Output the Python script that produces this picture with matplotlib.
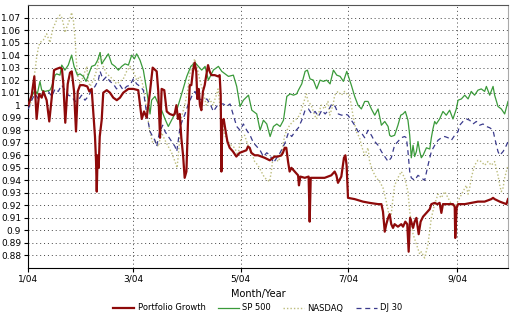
import matplotlib
matplotlib.use('Agg')
import matplotlib.pyplot as plt

# days since 1 Jan 2004 and growth values
pg_day = [0.2, 2.1, 3.6, 4.9, 6.3, 7.8, 8.7, 10.6, 12.1, 13.5, 14.8, 16.3, 18.2, 19.3, 20.1, 21.2,
          22.6, 23.9, 24.9, 26.2, 27.3, 28.3, 29.6, 31.5, 33.7, 34.9, 36.2, 37.1, 38.1, 38.7, 39.1,
          39.6, 40.2, 40.8, 41.9, 42.8, 44.8, 46.6, 48.5, 50.5, 52.3, 54.2, 57.1, 59.9, 62.7, 64.7,
          66.0, 67.5, 69.4, 70.9, 73.2, 74.1, 75.1, 76.0, 77.5, 78.9, 80.6, 82.5, 83.4, 84.4, 85.3,
          86.3, 87.2, 88.2, 89.1, 90.1, 91.0, 92.0, 92.9, 93.8, 94.8, 95.7, 96.3, 97.1, 97.8, 98.6,
          99.5, 100.5, 101.4, 102.4, 103.3, 104.3, 106.2, 108.1, 109.0, 109.6, 110.0, 110.5, 111.3,
          112.2, 113.4, 114.7, 116.6, 118.5, 120.4, 122.3, 124.2, 125.1, 126.1, 127.0, 128.9, 130.8,
          132.7, 134.6, 137.5, 140.3, 142.2, 144.1, 145.0, 146.0, 146.9, 147.9, 148.8, 149.8, 151.7,
          153.6, 154.1, 154.9, 157.4, 159.6, 160.2, 160.8, 163.0, 165.9, 168.7, 170.6, 172.5, 174.4,
          175.4, 176.3, 178.2, 179.7, 180.5, 181.2, 182.0, 185.8, 190.5, 194.3, 199.1, 201.0, 201.9,
          202.9, 203.8, 204.8, 205.7, 206.6, 207.6, 208.5, 210.4, 212.3, 213.3, 214.6, 215.7, 216.5,
          217.3, 218.0, 219.0, 219.9, 220.9, 222.2, 223.3, 224.7, 226.6, 228.5, 229.4, 231.3, 232.8,
          234.1, 235.1, 236.0, 237.9, 239.8, 241.7, 242.7, 243.0, 243.8, 244.6, 248.4, 252.1, 255.9,
          259.7, 263.5, 264.5, 265.4, 268.3, 272.1, 273.0]
pg_val = [1.000, 1.008, 1.023, 0.989, 1.009, 1.006, 1.011, 1.004, 0.987, 1.006, 1.028, 1.029, 1.030,
          1.029, 1.017, 0.986, 1.017, 1.026, 1.027, 1.011, 0.979, 1.011, 1.016, 1.016, 1.015, 1.011,
          1.013, 0.995, 0.975, 0.955, 0.931, 0.960, 0.950, 0.975, 0.988, 1.010, 1.012, 1.010, 1.006,
          1.004, 1.006, 1.010, 1.013, 1.013, 1.012, 0.989, 0.995, 0.990, 1.011, 1.030, 1.027, 1.011,
          0.974, 1.013, 1.012, 0.995, 0.993, 0.992, 0.993, 1.000, 0.989, 0.993, 0.974, 0.960, 0.942,
          0.947, 0.987, 1.016, 1.016, 1.027, 1.034, 1.027, 1.005, 1.013, 1.000, 0.996, 1.011, 1.016,
          1.024, 1.032, 1.027, 1.024, 1.024, 1.023, 1.024, 1.008, 0.947, 0.987, 0.989, 0.981, 0.971,
          0.966, 0.963, 0.959, 0.962, 0.963, 0.964, 0.967, 0.966, 0.962, 0.960, 0.960, 0.959, 0.958,
          0.956, 0.959, 0.959, 0.960, 0.962, 0.966, 0.966, 0.955, 0.947, 0.950, 0.947, 0.944, 0.936,
          0.943, 0.942, 0.943, 0.907, 0.942, 0.942, 0.942, 0.942, 0.943, 0.944, 0.947, 0.944, 0.938,
          0.943, 0.958, 0.960, 0.952, 0.926, 0.925, 0.923, 0.922, 0.921, 0.921, 0.915, 0.899, 0.905,
          0.910, 0.913, 0.905, 0.902, 0.905, 0.903, 0.905, 0.903, 0.907, 0.905, 0.883, 0.910, 0.907,
          0.902, 0.907, 0.910, 0.897, 0.907, 0.911, 0.914, 0.917, 0.921, 0.922, 0.921, 0.922, 0.914,
          0.921, 0.921, 0.921, 0.921, 0.919, 0.894, 0.918, 0.921, 0.921, 0.922, 0.923, 0.923, 0.925,
          0.926, 0.925, 0.923, 0.921, 0.925]

sp_day = [0.2, 2.1, 4.0, 5.3, 6.8, 7.8, 9.7, 12.5, 13.5, 15.4, 16.3, 18.2, 19.2, 21.0, 22.9, 24.8,
          26.2, 28.1, 29.6, 31.5, 33.0, 34.3, 36.2, 38.1, 39.6, 41.0, 41.9, 43.8, 45.7, 47.6, 49.5,
          51.4, 53.3, 55.2, 57.1, 59.0, 60.5, 61.8, 63.7, 65.6, 67.5, 69.4, 70.3, 72.2, 74.1, 76.0,
          77.9, 79.8, 84.6, 87.4, 90.3, 92.6, 95.0, 96.9, 98.8, 100.7, 102.6, 105.4, 108.3, 110.2,
          112.1, 114.0, 116.8, 118.7, 120.6, 122.5, 125.4, 127.3, 130.1, 132.0, 133.9, 135.8, 137.7,
          139.6, 141.5, 143.4, 145.3, 147.2, 149.1, 151.0, 152.8, 153.8, 155.7, 157.6, 158.9, 160.4,
          162.3, 164.2, 166.1, 168.0, 169.9, 171.8, 173.7, 175.6, 177.5, 179.4, 181.3, 183.9, 185.8,
          187.7, 189.6, 191.5, 193.4, 195.3, 197.2, 199.1, 201.0, 202.9, 204.8, 205.7, 206.6, 208.5,
          210.4, 212.0, 213.3, 214.6, 216.1, 217.1, 218.0, 219.0, 219.9, 220.9, 221.8, 222.8, 223.7,
          224.7, 226.6, 228.5, 229.4, 230.3, 231.3, 232.2, 234.1, 236.0, 237.9, 239.8, 241.7, 243.6,
          244.6, 246.5, 248.4, 250.3, 252.1, 254.0, 255.9, 257.8, 259.7, 260.7, 262.6, 264.5, 265.4,
          267.3, 269.2, 271.1, 273.0]
sp_val = [1.001, 1.007, 1.012, 1.009, 1.019, 1.012, 1.011, 1.012, 1.015, 1.024, 1.025, 1.024, 1.032,
          1.028, 1.032, 1.040, 1.031, 1.024, 1.025, 1.023, 1.019, 1.024, 1.031, 1.032, 1.036, 1.042,
          1.033, 1.037, 1.041, 1.033, 1.031, 1.028, 1.031, 1.033, 1.032, 1.040, 1.037, 1.041, 1.036,
          1.028, 1.012, 0.993, 1.004, 1.007, 1.001, 0.996, 0.989, 0.983, 0.996, 1.009, 1.023, 1.031,
          1.034, 1.031, 1.028, 1.031, 1.020, 1.028, 1.031, 1.027, 1.025, 1.023, 1.024, 1.015, 0.999,
          1.004, 1.008, 0.996, 0.993, 0.980, 0.988, 0.985, 0.975, 0.983, 0.985, 0.983, 0.988, 1.007,
          1.009, 1.008, 1.009, 1.012, 1.017, 1.027, 1.028, 1.021, 1.020, 1.013, 1.020, 1.019, 1.020,
          1.017, 1.028, 1.024, 1.023, 1.019, 1.027, 1.016, 1.007, 1.000, 0.997, 1.003, 1.003, 0.997,
          0.992, 0.997, 0.984, 0.987, 0.983, 0.976, 0.975, 0.976, 0.984, 0.992, 0.993, 0.995, 0.988,
          0.976, 0.958, 0.968, 0.959, 0.963, 0.971, 0.963, 0.958, 0.960, 0.966, 0.965, 0.974, 0.981,
          0.987, 0.985, 0.989, 0.995, 0.992, 0.996, 0.989, 0.997, 1.004, 1.005, 1.008, 1.005, 1.011,
          1.008, 1.012, 1.013, 1.011, 1.015, 1.008, 1.015, 1.008, 0.999, 0.997, 0.993, 1.003]

nq_day = [0.2, 2.1, 3.0, 4.0, 4.9, 5.9, 6.8, 8.7, 10.6, 12.5, 13.5, 14.4, 16.3, 18.2, 19.2, 20.1,
          21.0, 22.0, 23.9, 24.8, 25.8, 26.7, 27.7, 28.6, 29.6, 31.5, 32.4, 33.4, 34.3, 35.3, 37.2,
          39.1, 41.0, 42.8, 44.7, 46.6, 48.5, 50.4, 52.3, 54.2, 56.1, 58.0, 59.9, 61.8, 63.7, 65.6,
          67.5, 69.4, 70.9, 72.2, 74.1, 76.0, 77.9, 79.8, 81.7, 83.6, 84.8, 85.8, 87.2, 89.1, 91.0,
          92.0, 94.8, 95.7, 97.6, 99.5, 101.4, 103.3, 105.2, 107.1, 108.1, 110.0, 111.9, 113.8,
          115.6, 117.5, 119.4, 120.4, 121.3, 123.2, 125.1, 127.0, 128.9, 130.8, 132.7, 134.6, 137.4,
          138.4, 139.3, 140.3, 142.2, 144.1, 145.0, 146.0, 146.9, 148.8, 150.7, 152.6, 154.5, 156.4,
          157.4, 158.3, 159.3, 161.1, 163.0, 164.0, 164.9, 166.8, 168.7, 170.6, 171.6, 173.5, 174.4,
          176.3, 178.2, 180.1, 182.0, 182.9, 184.8, 186.7, 188.6, 189.6, 191.5, 193.4, 194.3, 196.2,
          198.1, 200.0, 201.9, 203.8, 205.7, 206.6, 207.6, 208.5, 210.4, 212.3, 214.2, 216.1, 217.1,
          219.0, 220.9, 222.8, 223.7, 225.6, 227.5, 228.4, 229.4, 231.3, 233.2, 235.1, 237.0, 238.9,
          240.8, 242.7, 243.6, 245.5, 247.4, 249.3, 250.3, 251.2, 252.1, 254.0, 255.9, 257.8, 259.7,
          261.6, 263.5, 265.4, 267.3, 268.3, 269.2, 270.2, 271.1, 273.0]
nq_val = [0.996, 1.004, 1.015, 1.028, 1.038, 1.046, 1.050, 1.052, 1.057, 1.050, 1.057, 1.062, 1.068,
          1.072, 1.070, 1.065, 1.058, 1.062, 1.069, 1.074, 1.068, 1.054, 1.031, 1.020, 1.017, 1.023,
          1.027, 1.031, 1.019, 1.015, 1.020, 1.028, 1.042, 1.031, 1.025, 1.023, 1.020, 1.017, 1.019,
          1.021, 1.027, 1.031, 1.027, 1.020, 1.023, 1.015, 0.996, 0.978, 0.970, 0.972, 0.967, 0.978,
          0.972, 0.967, 0.962, 0.955, 0.950, 0.965, 0.990, 1.000, 1.013, 1.025, 1.037, 1.033, 1.021,
          1.011, 1.000, 1.005, 1.000, 1.008, 1.013, 0.989, 0.976, 0.971, 0.968, 0.966, 0.960, 0.968,
          0.974, 0.976, 0.968, 0.963, 0.955, 0.952, 0.947, 0.942, 0.939, 0.947, 0.958, 0.960, 0.955,
          0.960, 0.968, 0.976, 0.979, 0.984, 0.987, 0.989, 0.992, 1.000, 1.005, 1.009, 1.003, 1.000,
          0.992, 0.989, 0.992, 1.000, 0.997, 1.003, 0.992, 1.000, 1.008, 1.011, 1.008, 1.011, 1.008,
          1.008, 0.992, 0.979, 0.974, 0.968, 0.960, 0.966, 0.955, 0.947, 0.942, 0.939, 0.934, 0.923,
          0.910, 0.913, 0.926, 0.936, 0.942, 0.947, 0.942, 0.931, 0.915, 0.897, 0.889, 0.881, 0.883,
          0.878, 0.889, 0.899, 0.910, 0.921, 0.929, 0.926, 0.931, 0.926, 0.921, 0.918, 0.921, 0.926,
          0.931, 0.936, 0.929, 0.934, 0.942, 0.952, 0.956, 0.955, 0.952, 0.955, 0.952, 0.955, 0.944,
          0.936, 0.931, 0.934, 0.942, 0.952]

dj_day = [0.2, 2.1, 4.0, 5.9, 7.8, 9.7, 11.6, 13.5, 15.4, 17.2, 19.2, 21.0, 22.9, 24.8, 26.7, 28.6,
          30.5, 32.4, 34.3, 36.2, 38.1, 40.0, 41.0, 42.8, 44.7, 46.6, 48.5, 50.4, 52.3, 54.2, 56.1,
          58.0, 59.9, 61.8, 63.7, 65.6, 67.5, 69.4, 70.9, 72.2, 73.2, 74.7, 76.6, 77.9, 79.8, 81.7,
          83.6, 84.6, 85.5, 86.5, 89.3, 91.2, 93.1, 95.0, 96.9, 99.8, 101.7, 103.6, 105.4, 108.3,
          111.1, 113.0, 114.9, 116.8, 118.7, 120.6, 122.5, 124.4, 126.3, 128.2, 130.1, 132.0, 133.9,
          135.8, 137.7, 139.6, 141.5, 143.4, 146.2, 148.1, 150.0, 151.9, 153.8, 155.7, 157.6, 159.5,
          161.4, 163.3, 165.2, 167.1, 169.0, 170.9, 172.8, 174.7, 176.5, 178.4, 180.3, 182.0, 183.9,
          185.8, 187.7, 189.6, 191.5, 193.4, 195.3, 197.2, 199.1, 201.0, 202.9, 204.8, 206.6, 208.5,
          210.4, 212.3, 214.2, 215.2, 216.1, 217.1, 218.0, 219.9, 221.8, 223.7, 225.6, 227.5, 229.4,
          231.3, 233.2, 235.1, 237.0, 238.9, 240.8, 242.7, 244.6, 245.5, 247.4, 249.3, 251.2, 253.1,
          255.0, 256.9, 258.8, 260.7, 262.6, 264.5, 265.4, 267.3, 268.3, 270.2, 272.1, 273.0]
dj_val = [0.997, 1.004, 1.009, 1.005, 1.008, 1.009, 1.011, 1.007, 1.013, 1.011, 1.016, 1.012, 1.008,
          1.007, 1.003, 1.004, 1.008, 1.004, 1.007, 1.012, 1.015, 1.020, 1.027, 1.020, 1.023, 1.019,
          1.017, 1.013, 1.016, 1.012, 1.015, 1.016, 1.021, 1.017, 1.015, 1.012, 0.993, 0.979, 0.975,
          0.972, 0.967, 0.978, 0.984, 0.979, 0.975, 0.971, 0.967, 0.963, 0.972, 0.983, 0.993, 1.001,
          1.007, 1.011, 1.005, 1.004, 1.005, 1.001, 0.995, 1.001, 1.001, 0.999, 1.001, 0.992, 0.983,
          0.980, 0.985, 0.980, 0.976, 0.970, 0.967, 0.964, 0.959, 0.962, 0.960, 0.954, 0.958, 0.962,
          0.970, 0.978, 0.975, 0.979, 0.982, 0.988, 0.996, 0.997, 0.993, 0.995, 0.991, 0.996, 0.993,
          0.996, 1.001, 0.999, 0.993, 0.992, 0.993, 0.992, 0.988, 0.984, 0.979, 0.978, 0.974, 0.980,
          0.976, 0.971, 0.968, 0.963, 0.959, 0.955, 0.958, 0.968, 0.971, 0.974, 0.975, 0.974, 0.963,
          0.947, 0.942, 0.940, 0.944, 0.942, 0.940, 0.952, 0.963, 0.968, 0.972, 0.974, 0.975, 0.974,
          0.972, 0.976, 0.979, 0.984, 0.987, 0.989, 0.988, 0.985, 0.987, 0.984, 0.985, 0.983, 0.982,
          0.980, 0.974, 0.963, 0.960, 0.963, 0.968, 0.971]

tick_days = [0, 60, 121, 182, 244]
tick_labels = ['1/04', '3/04', '5/04', '7/04', '9/04']
y_ticks = [0.88, 0.89, 0.90, 0.91, 0.92, 0.93, 0.94, 0.95, 0.96, 0.97, 0.98, 0.99, 1.00,
           1.01, 1.02, 1.03, 1.04, 1.05, 1.06, 1.07]
y_labels = ['0.88', '0.89', '0.9', '0.91', '0.92', '0.93', '0.94', '0.95', '0.96', '0.97',
            '0.98', '0.99', '1', '1.01', '1.02', '1.03', '1.04', '1.05', '1.06', '1.07']

fig = plt.figure(figsize=(5.12, 3.14), dpi=100)
ax = fig.add_axes([28/512, 1-268/314, 480/512, 263/314])

ax.plot(nq_day, nq_val, color='#bcbc7c', lw=1.0, ls=(0, (1, 1.5)), label='NASDAQ', zorder=2)
ax.plot(dj_day, dj_val, color='#3a3a8c', lw=0.9, ls=(0, (4, 3)), label='DJ 30', zorder=3)
ax.plot(sp_day, sp_val, color='#3a9a3a', lw=0.9, label='SP 500', zorder=4)
ax.plot(pg_day, pg_val, color='#8e0a0a', lw=1.6, label='Portfolio Growth', zorder=5)

ax.set_xlim(0, 273)
ax.set_ylim(0.87, 1.08)
ax.set_xticks(tick_days)
ax.set_xticklabels(tick_labels)
ax.set_yticks(y_ticks)
ax.set_yticklabels(y_labels)
ax.tick_params(labelsize=6.5, length=3, width=0.8, pad=2)
ax.grid(True, color='#444444', lw=0.7, ls=(0, (1, 3)))
ax.spines['top'].set_color('#555555')
ax.spines['right'].set_color('#aaaaaa')

fig.text(258/512, 1-294/314, 'Month/Year', ha='center', va='center', fontsize=7)

h, l = ax.get_legend_handles_labels()
order = [3, 2, 0, 1]
fig.legend([h[i] for i in order], [l[i] for i in order], loc='center', ncol=4,
           bbox_to_anchor=(258/512, 1-308/314), frameon=False, fontsize=6,
           handlelength=2.5, columnspacing=1.5, handletextpad=0.4)

fig.savefig('out.png', dpi=100)
